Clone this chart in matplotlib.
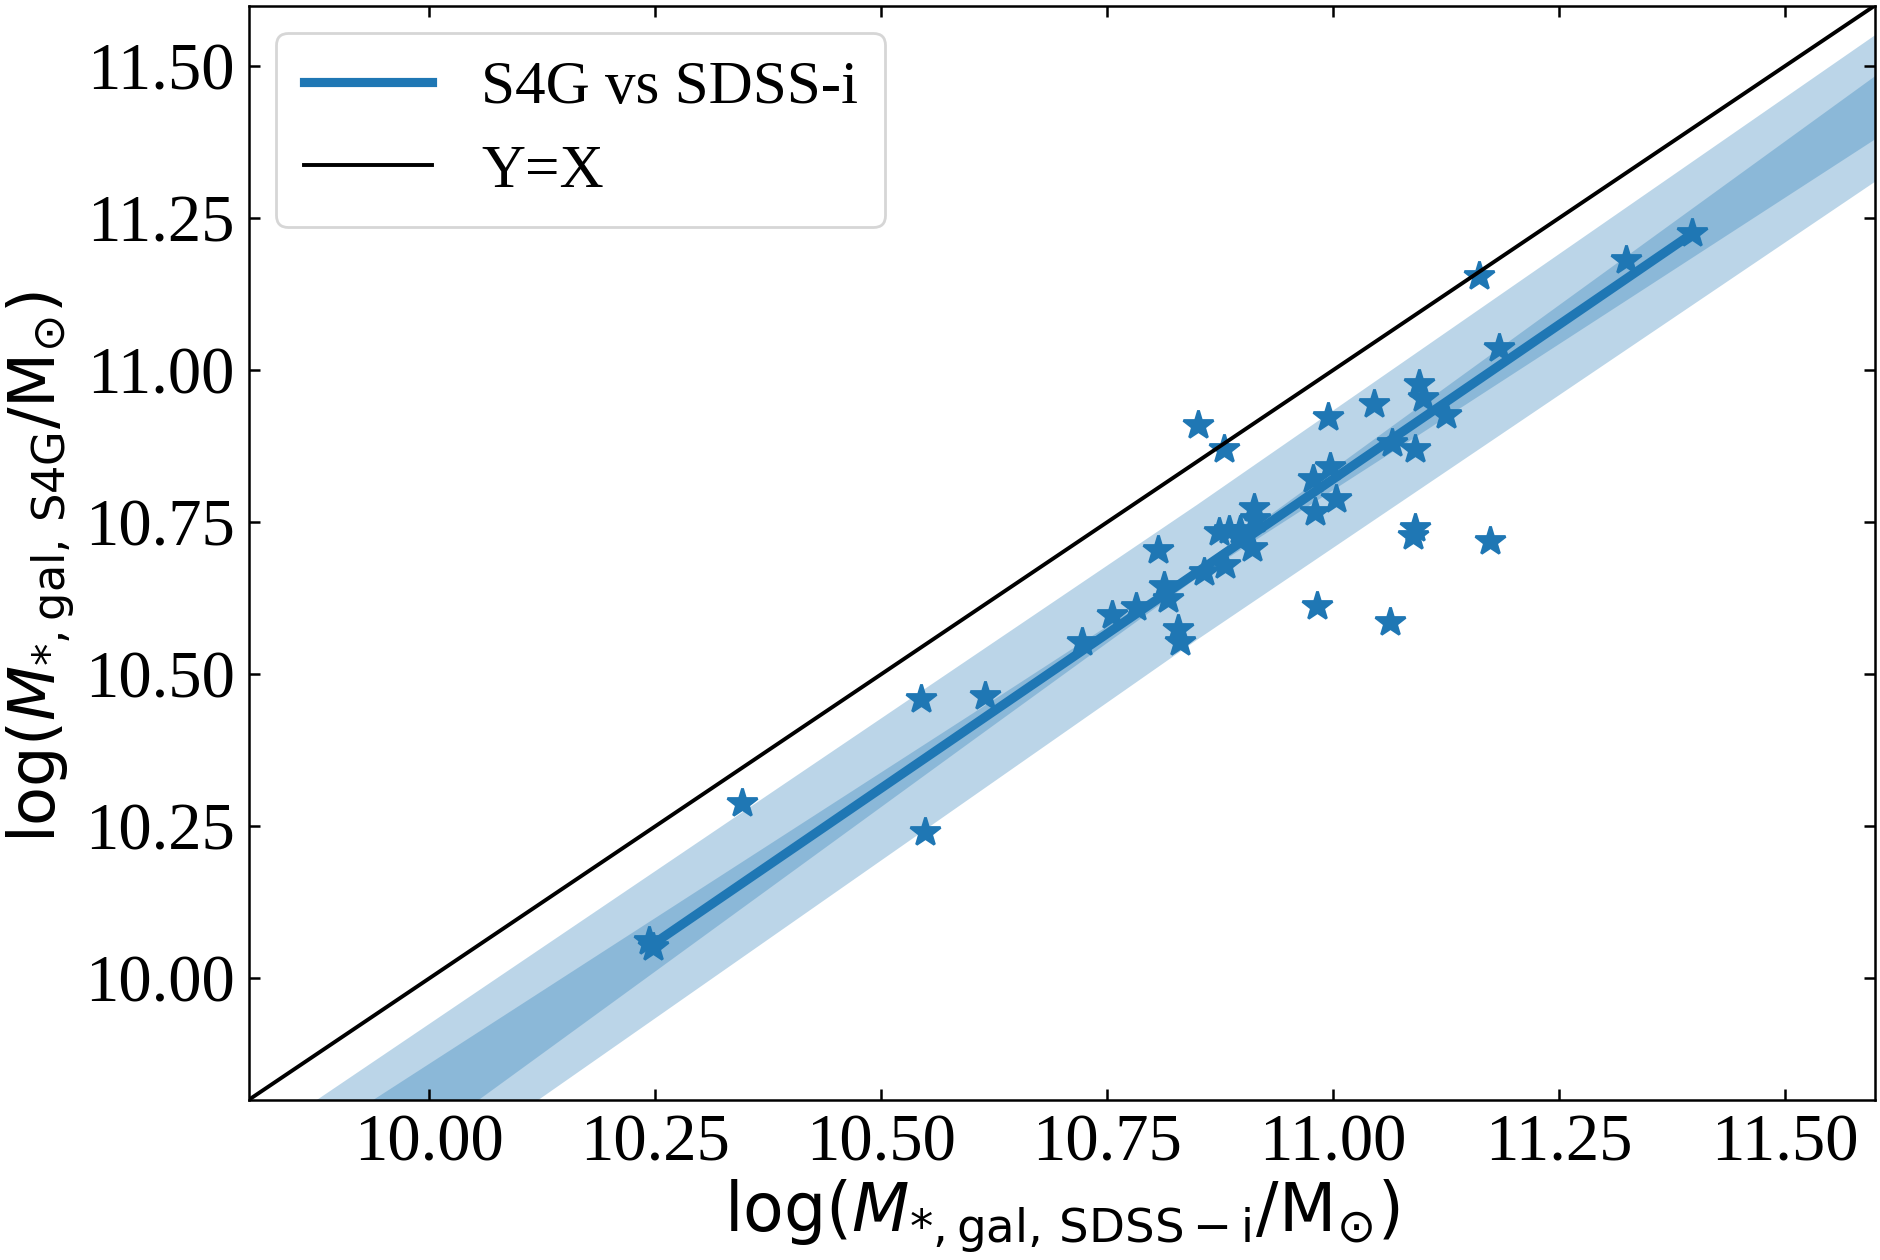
import matplotlib
matplotlib.use("Agg")
import matplotlib.pyplot as plt
import numpy as np

# stellar masses: SDSS-i (x) vs S4G (y)
x_sdss = [10.243, 10.247, 10.346, 10.544, 10.549, 10.615, 10.722, 10.756, 10.782, 10.806,
          10.813, 10.818, 10.829, 10.831, 10.851, 10.857, 10.874, 10.880, 10.881, 10.885,
          10.897, 10.910, 10.913, 10.914, 10.978, 10.980, 10.982, 10.995, 10.997, 11.004,
          11.045, 11.063, 11.066, 11.089, 11.091, 11.091, 11.095, 11.100, 11.125, 11.162,
          11.174, 11.184, 11.325, 11.398]
y_s4g = [10.061, 10.052, 10.288, 10.460, 10.240, 10.464, 10.553, 10.597, 10.611, 10.705,
         10.646, 10.624, 10.575, 10.553, 10.910, 10.668, 10.734, 10.871, 10.679, 10.737,
         10.737, 10.707, 10.774, 10.756, 10.822, 10.767, 10.612, 10.923, 10.841, 10.789,
         10.945, 10.586, 10.880, 10.728, 10.740, 10.871, 10.977, 10.954, 10.926, 11.155,
         10.719, 11.037, 11.182, 11.226]

# fitted relation (end points of the drawn line)
fit_x = [10.2455, 11.395]
fit_y = [10.054, 11.222]

# inner band (fit uncertainty), edges read at a few x positions
band_x = [9.80, 10.20, 10.60, 10.85, 11.10, 11.60]
inner_hi = [9.669, 10.0525, 10.4356, 10.6764, 10.9465, 11.485]
inner_lo = [9.526, 9.9585, 10.3911, 10.6604, 10.8995, 11.381]

# outer band (scatter)
outer_x = [9.80, 10.85, 11.60]
outer_hi = [9.724, 10.779, 11.551]
outer_lo = [9.467, 10.557, 11.310]

lims = [9.8, 11.6]
ticks = [10.00, 10.25, 10.50, 10.75, 11.00, 11.25, 11.50]

blue = "#1f77b4"
serif = "Liberation Serif"

fig, ax = plt.subplots(figsize=(9.4, 6.3), dpi=200)
fig.subplots_adjust(left=0.1323, right=0.9973, top=0.9956, bottom=0.1271)

ax.fill_between(outer_x, outer_lo, outer_hi, color=blue, alpha=0.3, lw=0, zorder=1)
ax.fill_between(band_x, inner_lo, inner_hi, color=blue, alpha=0.3, lw=0, zorder=1)
ax.plot(fit_x, fit_y, color=blue, lw=3.3, label="S4G vs SDSS-i", zorder=2)
ax.plot(x_sdss, y_s4g, ls="none", marker="*", ms=11, color=blue, zorder=3)
ax.plot(lims, lims, color="black", lw=1.4, label="Y=X", zorder=4)

ax.set_xlim(lims)
ax.set_ylim(lims)
ax.set_xticks(ticks)
ax.set_yticks(ticks)
ax.set_xticklabels(["%.2f" % t for t in ticks], fontfamily=serif, fontsize=24)
ax.set_yticklabels(["%.2f" % t for t in ticks], fontfamily=serif, fontsize=24)
ax.tick_params(direction="in", top=True, right=True, length=3.8, width=0.9, pad=5)
for sp in ax.spines.values():
    sp.set_linewidth(0.9)

ax.set_xlabel(r"log($M_{*,\rm gal,\,SDSS-i}/{\rm M_{\odot}}$)", fontsize=24, labelpad=1)
ax.set_ylabel(r"log($M_{*,\rm gal,\,S4G}/{\rm M_{\odot}}$)", fontsize=23, labelpad=3)
ax.yaxis.label.set_y(0.487)

leg = ax.legend(loc="upper left", prop={"family": serif, "size": 22},
                borderaxespad=0.45, handlelength=2.1, handletextpad=0.8,
                borderpad=0.45, labelspacing=0.45)
leg.get_frame().set_linewidth(1.0)

fig.savefig("out.png", dpi=200)
